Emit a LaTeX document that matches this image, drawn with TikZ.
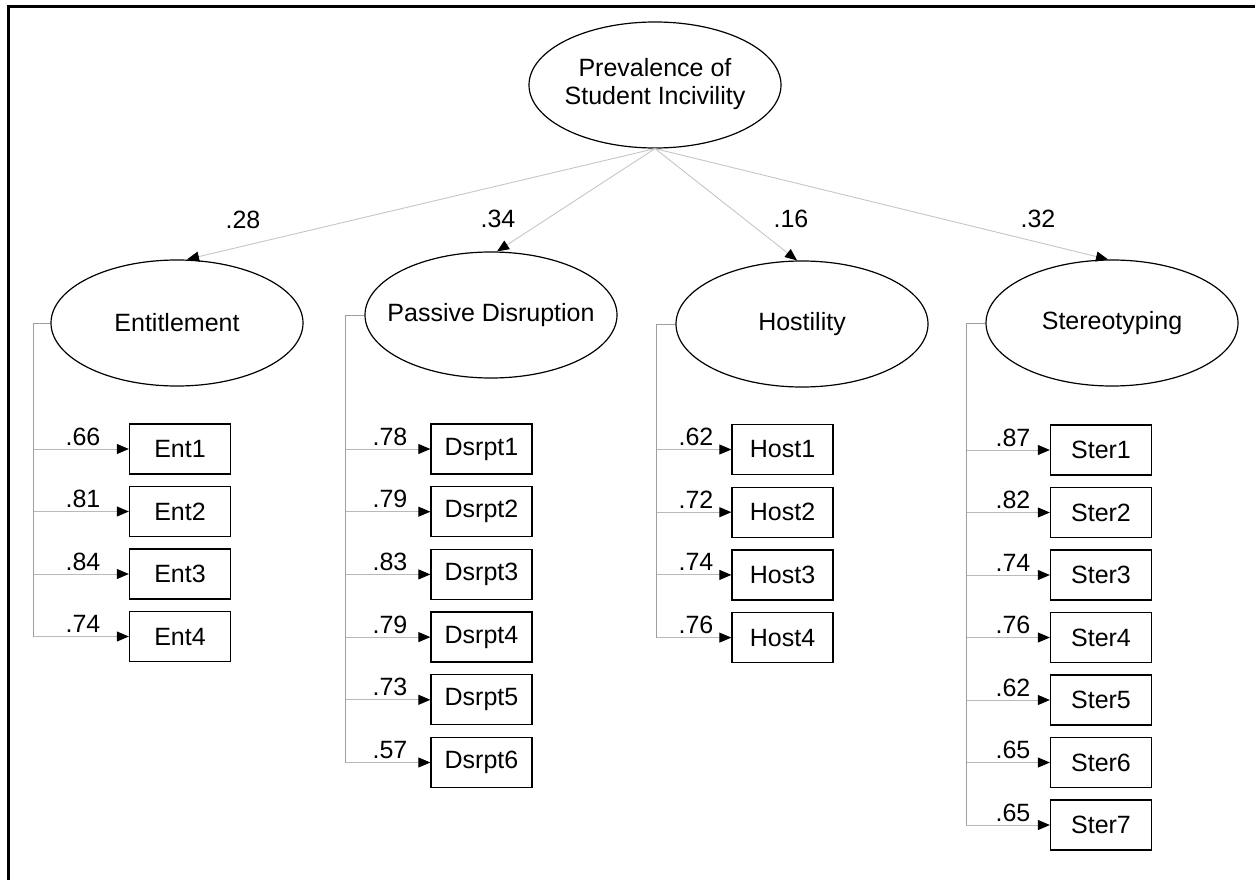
\documentclass[tikz,border=0pt]{standalone}
\usepackage{fontspec}
\setmainfont{Liberation Sans}
\usetikzlibrary{shapes.geometric,arrows.meta}
\newcommand\diagfont{\fontsize{25}{28}\selectfont}
\tikzset{
  lat/.style={ellipse, draw, line width=1.2pt, minimum width=252pt, minimum height=126pt, inner sep=0pt, font=\diagfont},
  obs/.style={rectangle, draw, line width=1.3pt, minimum width=101pt, minimum height=50pt, inner sep=0pt, font=\diagfont},
  load/.style={draw=gray!55, line width=0.9pt, -{Triangle[length=12pt,width=10pt,color=black]}},
  struct/.style={draw=gray!45, line width=0.9pt, -{Triangle[length=12pt,width=10pt,color=black]}},
  tree/.style={draw=gray!75, line width=1pt},
  coef/.style={font=\diagfont, anchor=base, inner sep=0pt},
}
\begin{document}
\begin{tikzpicture}[x=1pt,y=-1pt]
\useasboundingbox (0,0) rectangle (1255,880);
\draw[line width=2.4pt] (8.5,882) -- (8.5,6.5) -- (1257,6.5);

\node[lat] (top) at (655,85) {\makebox[0pt]{\begin{tabular}{@{}c@{}}Prevalence of\\Student Incivility\end{tabular}}};
\node[lat] (ent) at (177,323) {\makebox[0pt]{Entitlement}};
\node[lat] (pd) at (491,315) {\makebox[0pt]{Passive Disruption}};
\node[lat] (host) at (802,324) {\makebox[0pt]{Hostility}};
\node[lat] (ster) at (1112,323) {\makebox[0pt]{Stereotyping}};

\draw[struct] (top.south) -- ([xshift=10pt]ent.north);
\draw[struct] (top.south) -- ([xshift=6pt]pd.north);
\draw[struct] (top.south) -- ([xshift=-5pt]host.north);
\draw[struct] (top.south) -- ([xshift=-4pt]ster.north);
\node[coef] (c1) at (243,228) {.28};
\node[coef] (c2) at (498,227) {.34};
\node[coef] (c3) at (791,227) {.16};
\node[coef] (c4) at (1038,227) {.32};

% Entitlement
\foreach \i/\v [count=\k from 0] in {1/.66,2/.81,3/.84,4/.74} {
  \node[obs] (ent\i) at (180,449+62.5*\k) {Ent\i};
  \coordinate (entv\i) at (33,449+62.5*\k);
  \draw[load] (entv\i) -- (ent\i.west);
  \node[coef] (entl\i) at (83,445+62.5*\k) {\v};
}
\draw[tree] (ent.west) -| (entv4);

% Passive Disruption
\foreach \i/\v [count=\k from 0] in {1/.78,2/.79,3/.83,4/.79,5/.73,6/.57} {
  \node[obs] (ds\i) at (481.5,449+62.7*\k) {Dsrpt\i};
  \coordinate (dsv\i) at (345,449+62.7*\k);
  \draw[load] (dsv\i) -- (ds\i.west);
  \node[coef] (dsl\i) at (390,445+62.7*\k) {\v};
}
\draw[tree] (pd.west) -| (dsv6);

% Hostility
\foreach \i/\v [count=\k from 0] in {1/.62,2/.72,3/.74,4/.76} {
  \node[obs] (ho\i) at (782.5,449.5+62.7*\k) {Host\i};
  \coordinate (hov\i) at (656,449.5+62.7*\k);
  \draw[load] (hov\i) -- (ho\i.west);
  \node[coef] (hol\i) at (696,445.5+62.7*\k) {\v};
}
\draw[tree] (host.west) -| (hov4);

% Stereotyping
\foreach \i/\v [count=\k from 0] in {1/.87,2/.82,3/.74,4/.76,5/.62,6/.65,7/.65} {
  \node[obs] (st\i) at (1101,450+62.5*\k) {Ster\i};
  \coordinate (stv\i) at (966,450+62.5*\k);
  \draw[load] (stv\i) -- (st\i.west);
  \node[coef] (stl\i) at (1013,446+62.5*\k) {\v};
}
\draw[tree] (ster.west) -| (stv7);
\end{tikzpicture}
\end{document}
